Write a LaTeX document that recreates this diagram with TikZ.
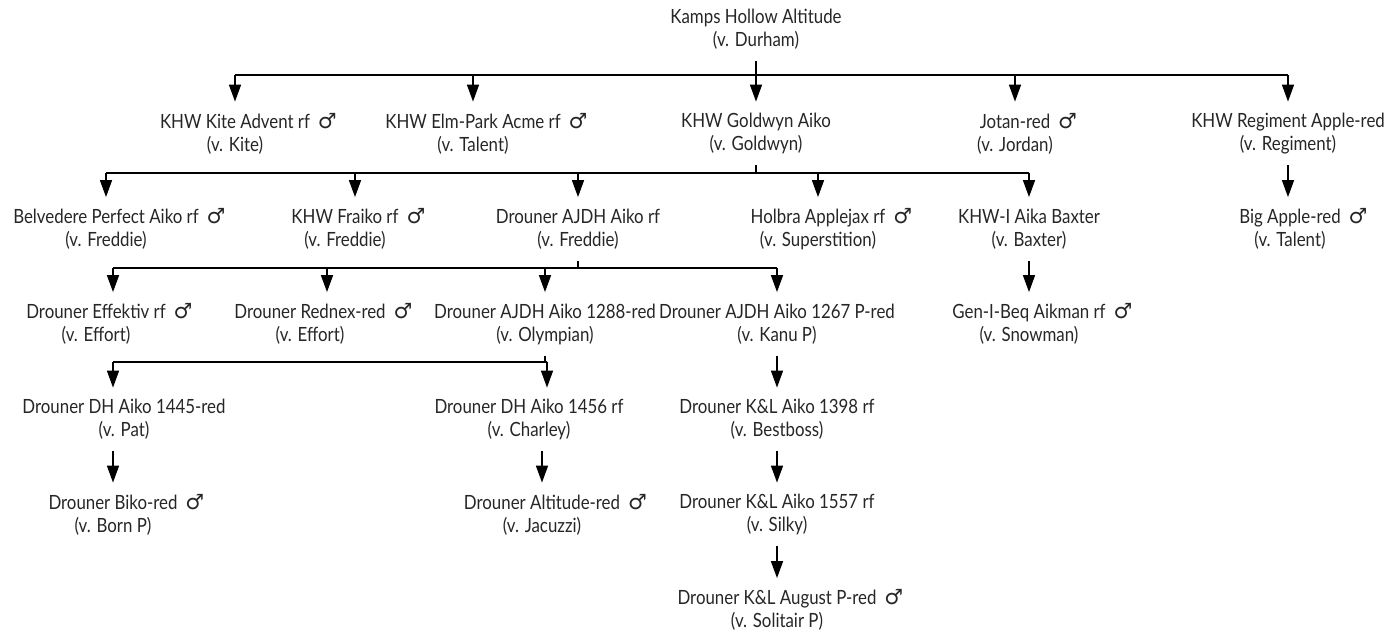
\documentclass[tikz,border=0pt]{standalone}
\usepackage{fontspec}
\setmainfont{Lato}[FakeStretch=0.86]
\newfontfamily\symfont{DejaVu Sans}
\usetikzlibrary{arrows.meta,calc}
\tikzset{
	>={Triangle[width=6pt,length=8.5pt]},
	person/.style={align=center, inner sep=0pt, minimum height=31.5pt,
		text=black!85, font=\fontsize{9.8}{11.5}\selectfont},
	link/.style={line width=0.75pt, black},
}
\newcommand{\sire}{\rlap{\hspace{4pt}{\symfont\fontsize{10.5}{11.5}\selectfont ♂}}}

\begin{document}
\begin{tikzpicture}[x=0.5pt,y=-0.5pt]
        \useasboundingbox (0,0) rectangle (1389,636);
        % rows of the pedigree
        \node[person] (kamps) at (756,29.5) {Kamps Hollow Altitude\\(v. Durham)};

        \node[person] (kite)     at (235,133.5)  {KHW Kite Advent rf\sire\\(v. Kite)};
        \node[person] (elmpark)  at (473,133.5)  {KHW Elm-Park Acme rf\sire\\(v. Talent)};
        \node[person] (goldwyn)  at (756,133.5)  {KHW Goldwyn Aiko\\(v. Goldwyn)};
        \node[person] (jotan)    at (1015,133.5) {Jotan-red\sire\\(v. Jordan)};
        \node[person] (regiment) at (1288,133.5) {KHW Regiment Apple-red\\(v. Regiment)};

        \node[person] (belvedere) at (106,229)  {Belvedere Perfect Aiko rf\sire\\(v. Freddie)};
        \node[person] (fraiko)    at (345,229)  {KHW Fraiko rf\sire\\(v. Freddie)};
        \node[person] (ajdh)      at (578,229)  {Drouner AJDH Aiko rf\\(v. Freddie)};
        \node[person] (holbra)    at (818,229)  {Holbra Applejax rf\sire\\(v. Superstition)};
        \node[person] (baxter)    at (1029,229) {KHW-I Aika Baxter\\(v. Baxter)};
        \node[person] (bigapple)  at (1290,229) {Big Apple-red\sire\\(v. Talent)};

        \node[person] (effektiv) at (96,324)   {Drouner Effektiv rf\sire\\(v. Effort)};
        \node[person] (rednex)   at (310,324)  {Drouner Rednex-red\sire\\(v. Effort)};
        \node[person] (olympian) at (545,324)  {Drouner AJDH Aiko 1288-red\\(v. Olympian)};
        \node[person] (kanu)     at (777,324)  {Drouner AJDH Aiko 1267 P-red\\(v. Kanu P)};
        \node[person] (aikman)   at (1029,324) {Gen-I-Beq Aikman rf\sire\\(v. Snowman)};

        \node[person] (pat)      at (124,419.5) {Drouner DH Aiko 1445-red\\(v. Pat)};
        \node[person] (charley)  at (529,419.5) {Drouner DH Aiko 1456 rf\\(v. Charley)};
        \node[person] (bestboss) at (777,419.5) {Drouner K\&L Aiko 1398 rf\\(v. Bestboss)};

        \node[person] (biko)    at (113,514.5) {Drouner Biko-red\sire\\(v. Born P)};
        \node[person] (jacuzzi) at (542,514.5) {Drouner Altitude-red\sire\\(v. Jacuzzi)};
        \node[person] (silky)   at (777,514.5) {Drouner K\&L Aiko 1557 rf\\(v. Silky)};

        \node[person] (solitair) at (777,610) {Drouner K\&L August P-red\sire\\(v. Solitair P)};

        % forks
        \coordinate (b0) at (0,75);
        \coordinate (b1) at (0,173);
        \coordinate (b2) at (0,268);
        \coordinate (b3) at (0,362);
        \coordinate (fraiko-in)   at ($(fraiko.north)+(10,0)$);
        \coordinate (effektiv-in) at ($(effektiv.north)+(17,0)$);
        \coordinate (rednex-in)   at ($(rednex.north)+(17,0)$);
        \coordinate (pat-in)      at ($(pat.north)+(-11,0)$);
        \coordinate (pat-out)     at ($(pat.south)+(-11,0)$);
        \coordinate (charley-in)  at ($(charley.north)+(18,0)$);
        \coordinate (charley-out) at ($(charley.south)+(13,0)$);

        \begin{scope}[link]
        \draw (kamps.south) -- (kamps.south |- b0);
        \draw (kite.north |- b0) -- (regiment.north |- b0);
        \foreach \n in {kite,elmpark,goldwyn,jotan,regiment}
            \draw[->] (\n.north |- b0) -- (\n.north);

        \draw (goldwyn.south) -- (goldwyn.south |- b1);
        \draw (belvedere.north |- b1) -- (baxter.north |- b1);
        \foreach \n in {belvedere.north,fraiko-in,ajdh.north,holbra.north,baxter.north}
            \draw[->] (\n |- b1) -- (\n);

        \draw (ajdh.south) -- (ajdh.south |- b2);
        \draw (effektiv-in |- b2) -- (kanu.north |- b2);
        \foreach \n in {effektiv-in,rednex-in,olympian.north,kanu.north}
            \draw[->] (\n |- b2) -- (\n);

        \draw (olympian.south) -- (olympian.south |- b3);
        \draw (pat-in |- b3) -- (charley-in |- b3);
        \foreach \n in {pat-in,charley-in}
            \draw[->] (\n |- b3) -- (\n);

        \draw[->] (regiment.south) -- (regiment.south |- bigapple.north);
        \draw[->] (baxter.south) -- (aikman.north);
        \draw[->] (kanu.south) -- (bestboss.north);
        \draw[->] (pat-out) -- (pat-out |- biko.north);
        \draw[->] (charley-out) -- (charley-out |- jacuzzi.north);
        \draw[->] (bestboss.south) -- (silky.north);
        \draw[->] (silky.south) -- (solitair.north);
        \end{scope}
    \end{tikzpicture}
\end{document}
